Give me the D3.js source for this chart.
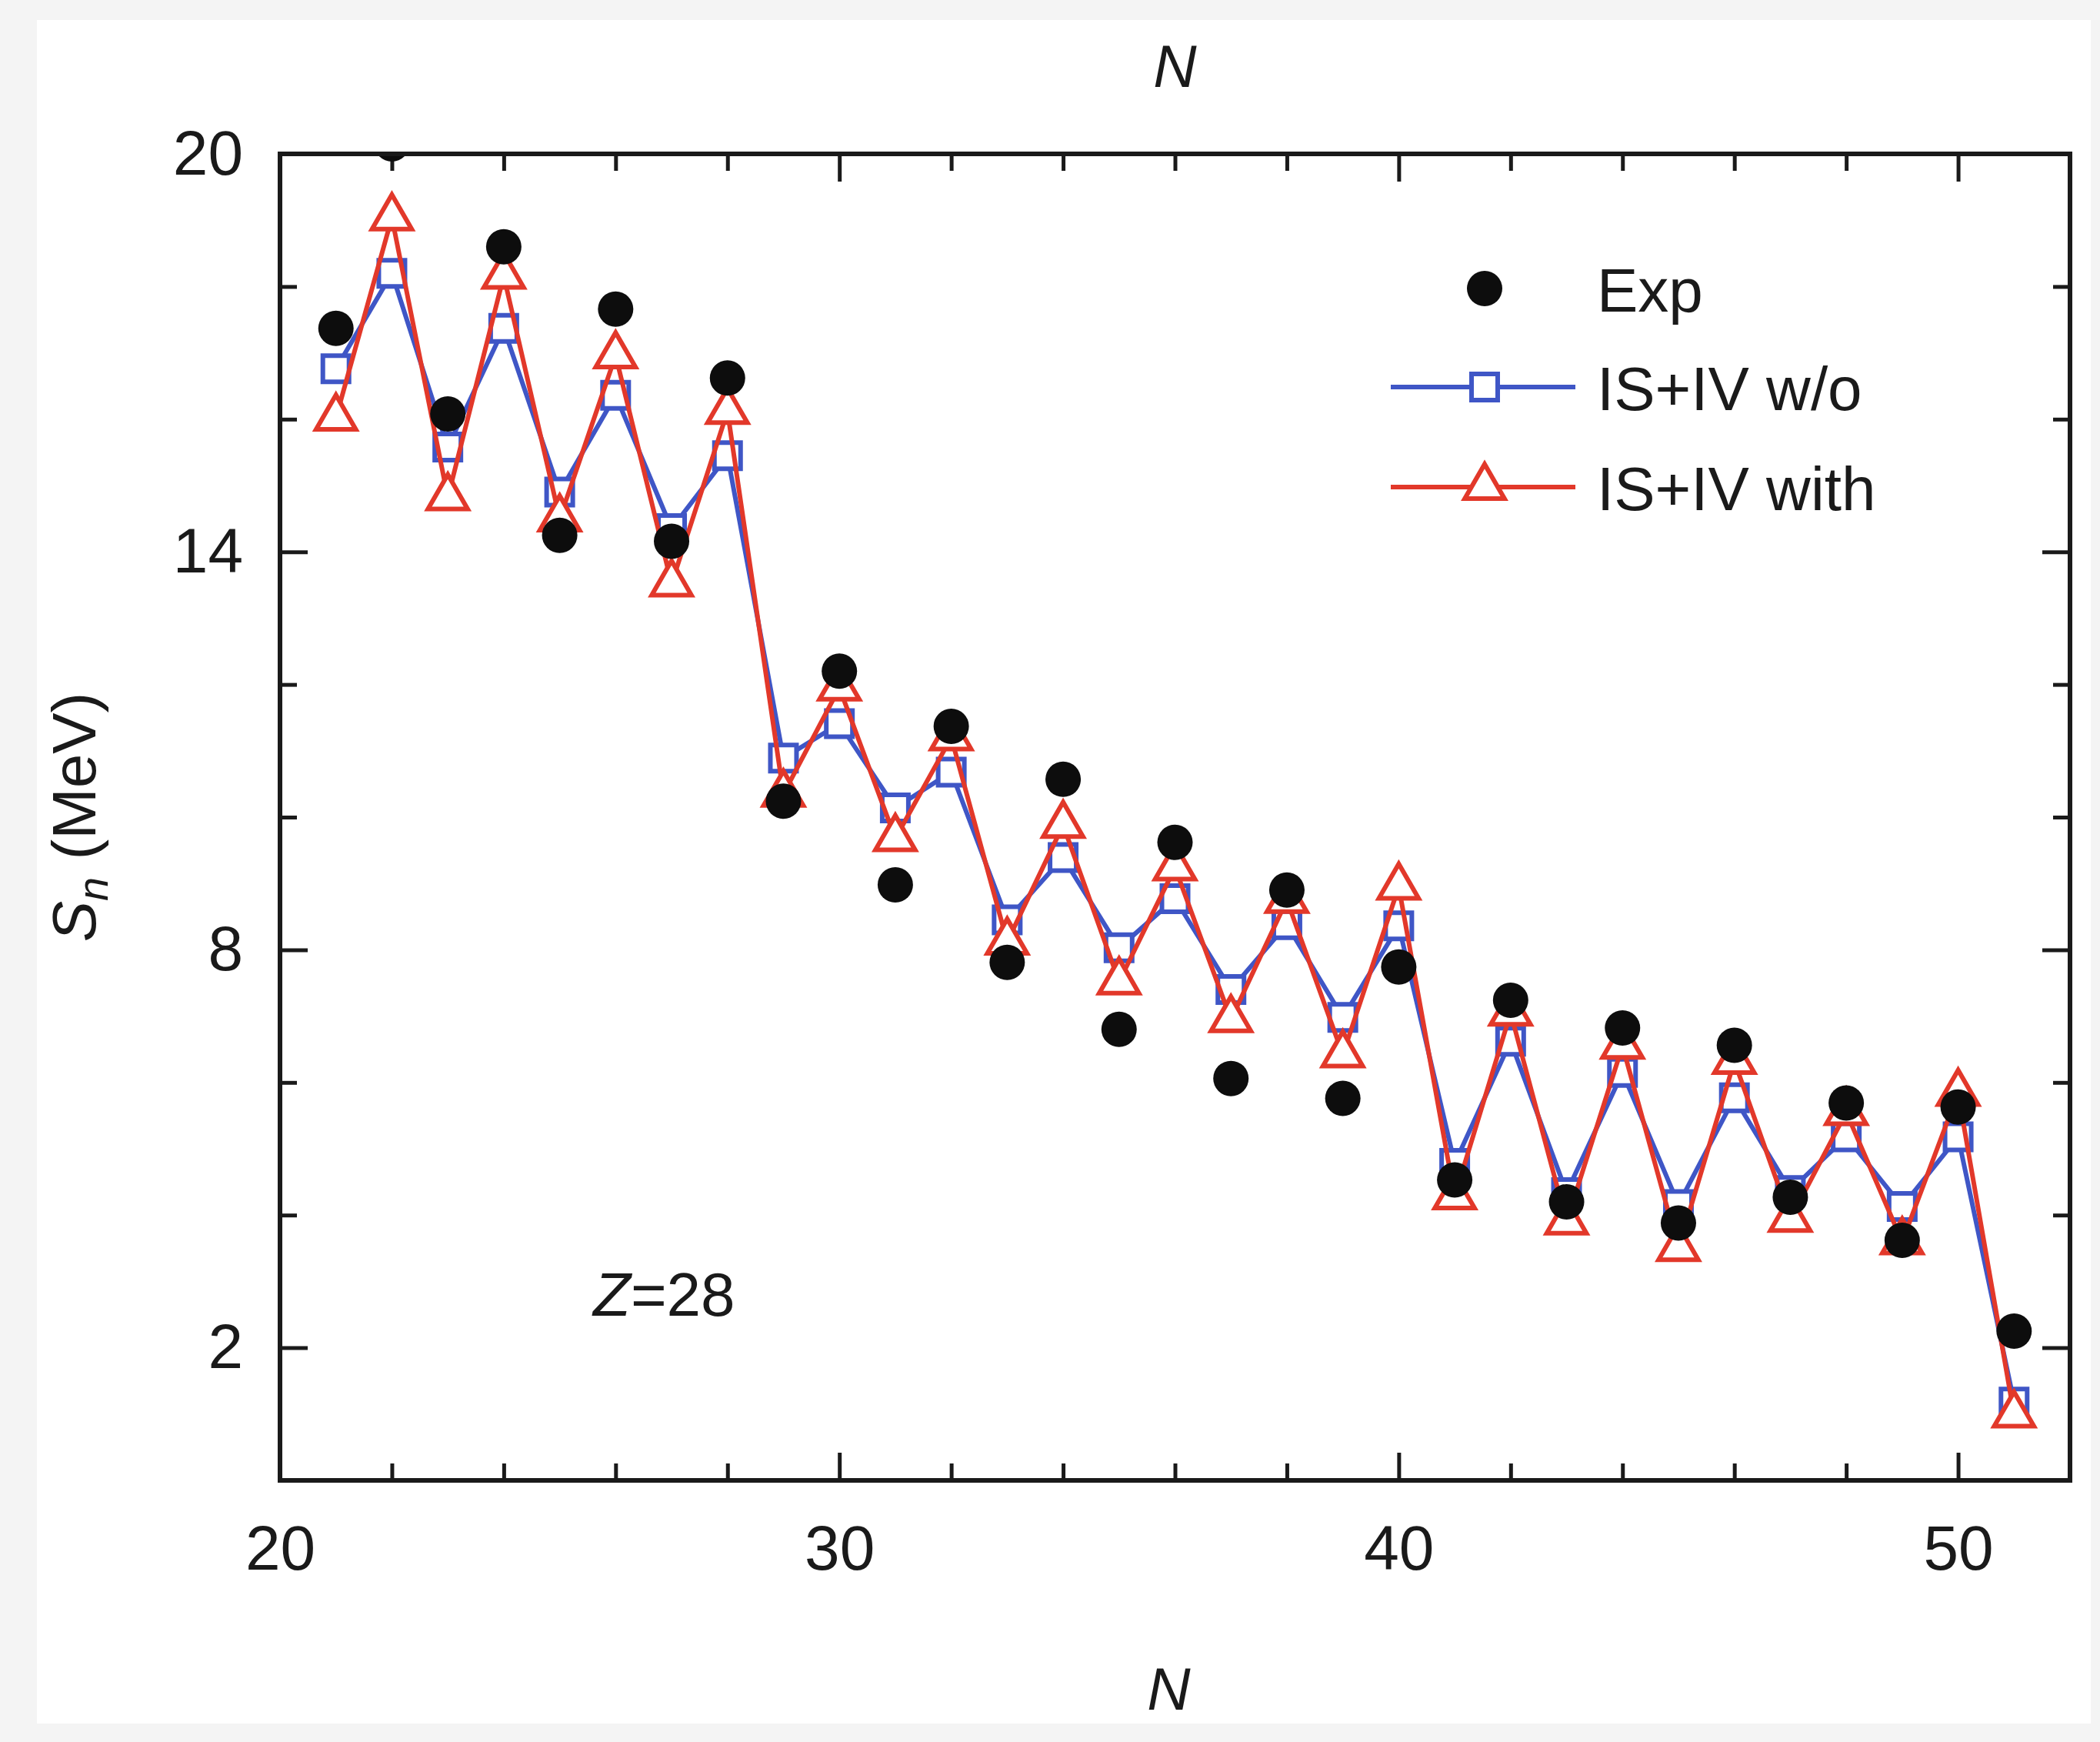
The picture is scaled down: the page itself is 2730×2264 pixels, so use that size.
<!DOCTYPE html>
<html>
<head>
<meta charset="utf-8">
<script src="https://cdn.jsdelivr.net/npm/d3@7"></script>
<style>
  body { margin: 0; background: #f4f4f4; }
  text { font-family: "Liberation Sans", Arial, sans-serif; fill: #1a1a1a; }
</style>
</head>
<body>
<div id="chart"></div>
<script>
// neutron number N
let nValues = [21, 22, 23, 24, 25, 26, 27, 28, 29, 30, 31, 32, 33, 34, 35, 36,
    37, 38, 39, 40, 41, 42, 43, 44, 45, 46, 47, 48, 49, 50, 51];

// S_n (MeV), experiment
let expValues = [17.37, 20.15, 16.08, 18.6, 14.25, 17.66, 14.16, 16.62, 10.24, 12.2,
    8.98, 11.37, 7.81, 10.57, 6.8, 9.62, 6.06, 8.9, 5.76, 7.74,
    4.53, 7.24, 4.2, 6.82, 3.88, 6.56, 4.27, 5.69, 3.62, 5.63, 2.25];

// IS+IV w/o
let woValues = [16.76, 18.2, 15.58, 17.37, 14.9, 16.36, 14.35, 15.45, 10.89, 11.41,
    10.14, 10.68, 8.45, 9.39, 8.03, 8.77, 7.4, 8.38, 6.98, 8.36,
    4.78, 6.62, 4.34, 6.15, 4.16, 5.77, 4.37, 5.18, 4.13, 5.18, 1.18];

// IS+IV with
let withValues = [16.02, 19.04, 14.82, 18.16, 14.5, 16.96, 13.52, 16.12, 10.35, 11.95,
    9.68, 11.2, 8.12, 9.88, 7.52, 9.24, 6.95, 8.75, 6.42, 8.95,
    4.28, 7.05, 3.9, 6.55, 3.5, 6.32, 3.94, 5.55, 3.6, 5.84, 0.99];

let xMajorTicks = [20, 30, 40, 50];
let xMinorTicks = [22, 24, 26, 28, 32, 34, 36, 38, 42, 44, 46, 48];
let yMajorTicks = [2, 8, 14, 20];
let yMinorTicks = [4, 6, 10, 12, 16, 18];

let legendNames = ["Exp", "IS+IV w/o", "IS+IV with"];

let blue = "#3f56c6";
let red = "#e2382a";

let width = 2730, height = 2264;
let plotLeft = 364, plotRight = 2691, plotTop = 200, plotBottom = 1924;

let svg = d3.select("#chart")
    .append("svg")
    .attr("width", width)
    .attr("height", height);

svg.append("rect")
    .attr("x", 48)
    .attr("y", 26)
    .attr("width", 2670)
    .attr("height", 2214)
    .attr("fill", "white");

let x = d3.scaleLinear().domain([20, 52]).range([plotLeft, plotRight]);
let y = d3.scaleLinear().domain([0, 20]).range([plotBottom, plotTop]);

// ticks, pointing inwards on all four sides
function styleAxis(g) {
    g.select(".domain").remove();
    g.selectAll(".tick line").attr("stroke", "#1a1a1a").attr("stroke-width", 5);
    g.selectAll(".tick text").style("font-size", "82px").attr("fill", "#1a1a1a");
}

svg.append("g")
    .attr("transform", "translate(0," + plotBottom + ")")
    .call(d3.axisBottom(x).tickValues(xMajorTicks).tickSize(-36).tickPadding(58).tickFormat(d3.format("d")))
    .call(styleAxis);
svg.append("g")
    .attr("transform", "translate(0," + plotBottom + ")")
    .call(d3.axisBottom(x).tickValues(xMinorTicks).tickSize(-22).tickFormat(""))
    .call(styleAxis);
svg.append("g")
    .attr("transform", "translate(0," + plotTop + ")")
    .call(d3.axisTop(x).tickValues(xMajorTicks).tickSize(-36).tickFormat(""))
    .call(styleAxis);
svg.append("g")
    .attr("transform", "translate(0," + plotTop + ")")
    .call(d3.axisTop(x).tickValues(xMinorTicks).tickSize(-22).tickFormat(""))
    .call(styleAxis);

svg.append("g")
    .attr("transform", "translate(" + plotLeft + ",0)")
    .call(d3.axisLeft(y).tickValues(yMajorTicks).tickSize(-36).tickPadding(48).tickFormat(d3.format("d")))
    .call(styleAxis);
svg.append("g")
    .attr("transform", "translate(" + plotLeft + ",0)")
    .call(d3.axisLeft(y).tickValues(yMinorTicks).tickSize(-22).tickFormat(""))
    .call(styleAxis);
svg.append("g")
    .attr("transform", "translate(" + plotRight + ",0)")
    .call(d3.axisRight(y).tickValues(yMajorTicks).tickSize(-36).tickFormat(""))
    .call(styleAxis);
svg.append("g")
    .attr("transform", "translate(" + plotRight + ",0)")
    .call(d3.axisRight(y).tickValues(yMinorTicks).tickSize(-22).tickFormat(""))
    .call(styleAxis);

svg.append("clipPath")
    .attr("id", "plotclip")
    .append("rect")
    .attr("x", plotLeft)
    .attr("y", plotTop)
    .attr("width", plotRight - plotLeft)
    .attr("height", plotBottom - plotTop);

let plot = svg.append("g").attr("clip-path", "url(#plotclip)");

let line = d3.line()
    .x((d, i) => x(nValues[i]))
    .y(d => y(d));

let squareSym = d3.symbol().type(d3.symbolSquare).size(34 * 34);
let triangleSym = d3.symbol().type(d3.symbolTriangle).size(1150);

// IS+IV w/o
plot.append("path")
    .attr("d", line(woValues))
    .attr("fill", "none")
    .attr("stroke", blue)
    .attr("stroke-width", 6);
plot.selectAll(".sq")
    .data(woValues)
    .join("path")
    .attr("class", "sq")
    .attr("d", squareSym)
    .attr("transform", (d, i) => "translate(" + x(nValues[i]) + "," + y(d) + ")")
    .attr("fill", "white")
    .attr("stroke", blue)
    .attr("stroke-width", 6);

// IS+IV with
plot.append("path")
    .attr("d", line(withValues))
    .attr("fill", "none")
    .attr("stroke", red)
    .attr("stroke-width", 6);
plot.selectAll(".tri")
    .data(withValues)
    .join("path")
    .attr("class", "tri")
    .attr("d", triangleSym)
    .attr("transform", (d, i) => "translate(" + x(nValues[i]) + "," + y(d) + ")")
    .attr("fill", "white")
    .attr("stroke", red)
    .attr("stroke-width", 6);

// Exp
plot.selectAll(".dot")
    .data(expValues)
    .join("circle")
    .attr("class", "dot")
    .attr("cx", (d, i) => x(nValues[i]))
    .attr("cy", d => y(d))
    .attr("r", 23)
    .attr("fill", "#0d0d0d");

// frame
svg.append("rect")
    .attr("x", plotLeft)
    .attr("y", plotTop)
    .attr("width", plotRight - plotLeft)
    .attr("height", plotBottom - plotTop)
    .attr("fill", "none")
    .attr("stroke", "#1a1a1a")
    .attr("stroke-width", 6);

// axis titles
svg.append("text")
    .attr("x", (plotLeft + plotRight) / 2)
    .attr("y", 113)
    .attr("text-anchor", "middle")
    .style("font-size", "78px")
    .style("font-style", "italic")
    .text("N");

svg.append("text")
    .attr("x", (plotLeft + plotRight) / 2 - 8)
    .attr("y", 2222)
    .attr("text-anchor", "middle")
    .style("font-size", "78px")
    .style("font-style", "italic")
    .text("N");

let ylab = svg.append("text")
    .attr("transform", "translate(124," + ((plotTop + plotBottom) / 2) + ") rotate(-90)")
    .attr("text-anchor", "middle")
    .style("font-size", "80px");
ylab.append("tspan").style("font-style", "italic").text("S");
ylab.append("tspan").style("font-style", "italic").style("font-size", "56px").attr("dy", 16).text("n");
ylab.append("tspan").attr("dy", -16).text(" (MeV)");

let zlab = svg.append("text")
    .attr("x", 771)
    .attr("y", 1710)
    .style("font-size", "80px");
zlab.append("tspan").style("font-style", "italic").text("Z");
zlab.append("tspan").text("=28");

// legend
let legend = svg.append("g");
let legendY = [375, 503, 633];

legend.append("circle")
    .attr("cx", 1930)
    .attr("cy", legendY[0])
    .attr("r", 23)
    .attr("fill", "#0d0d0d");

[[blue, squareSym], [red, triangleSym]].forEach((s, i) => {
    let ly = legendY[i + 1];
    legend.append("line")
        .attr("x1", 1808).attr("x2", 2048)
        .attr("y1", ly).attr("y2", ly)
        .attr("stroke", s[0])
        .attr("stroke-width", 6);
    legend.append("path")
        .attr("d", s[1])
        .attr("transform", "translate(1930," + ly + ")")
        .attr("fill", "white")
        .attr("stroke", s[0])
        .attr("stroke-width", 6);
});

legend.selectAll(".ltext")
    .data(legendNames)
    .join("text")
    .attr("class", "ltext")
    .attr("x", 2076)
    .attr("y", (d, i) => legendY[i] + 30)
    .style("font-size", "80px")
    .text(d => d);
</script>
</body>
</html>
